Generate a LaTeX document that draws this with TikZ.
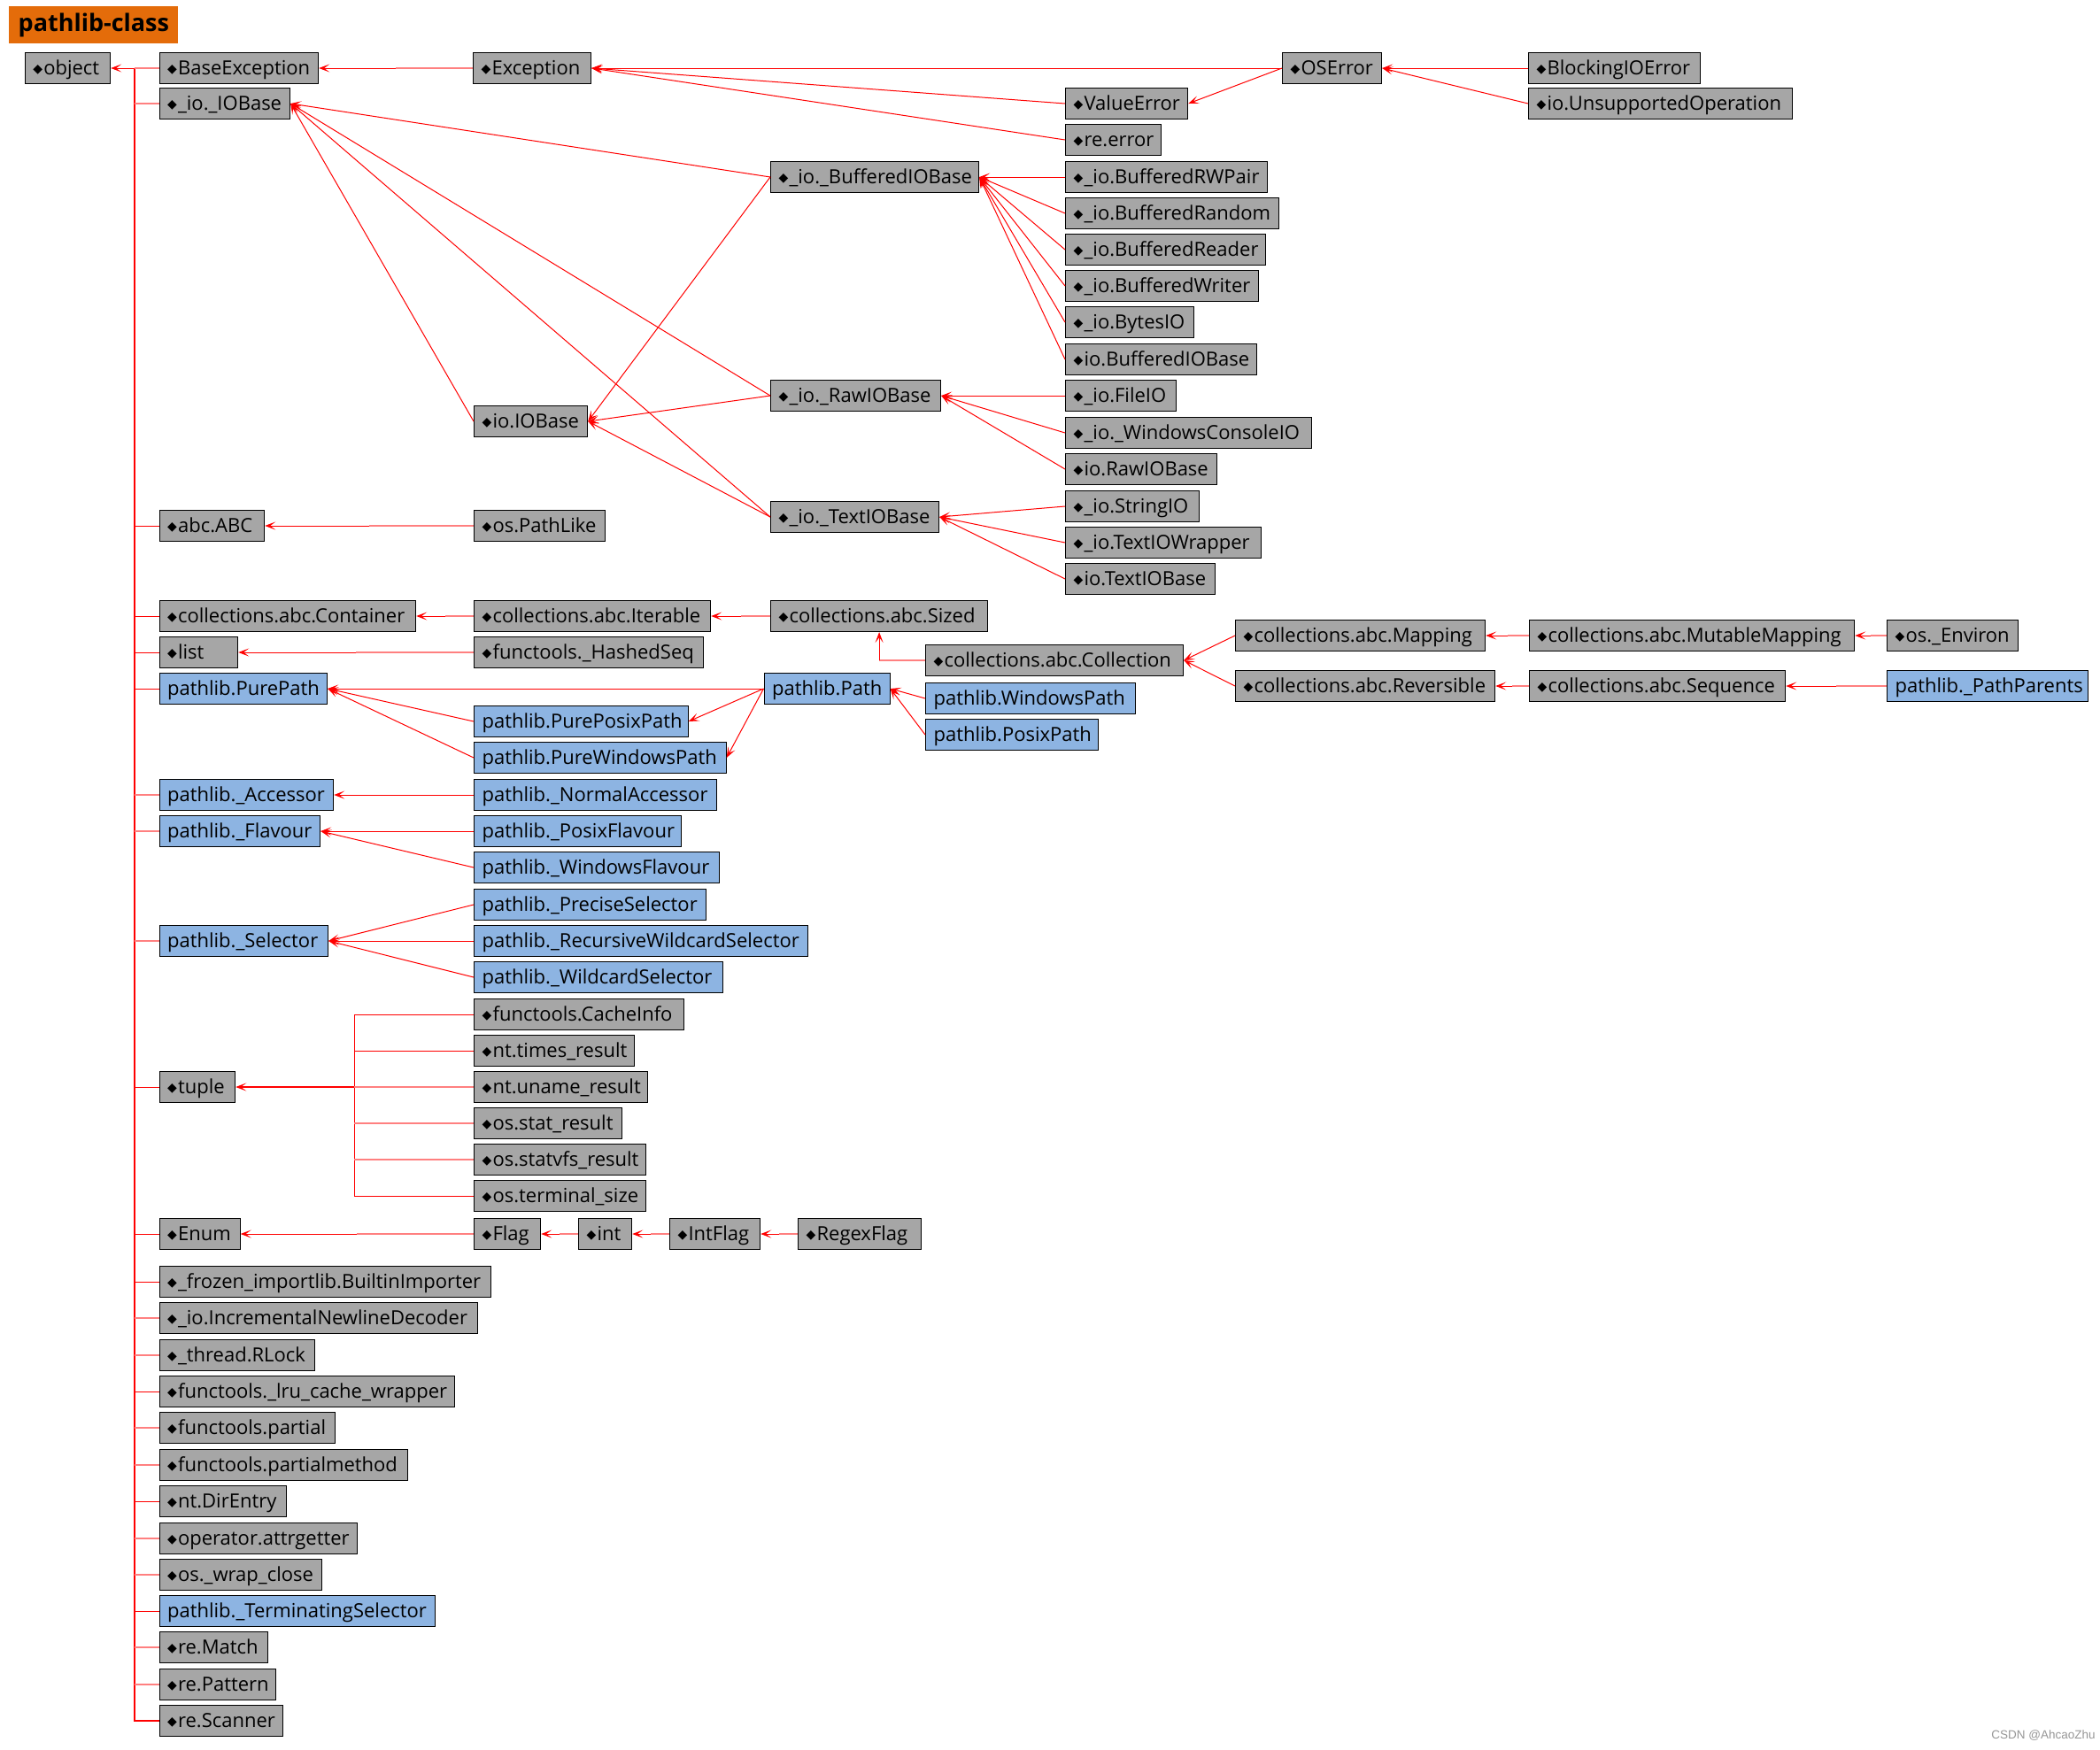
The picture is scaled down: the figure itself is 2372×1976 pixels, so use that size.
\documentclass[tikz,border=0pt]{standalone}
\usepackage{fontspec}
\setmainfont{Open Sans}
\newfontfamily\djv{DejaVu Sans}
\newfontfamily\lib{Liberation Sans}
\usetikzlibrary{arrows.meta,calc}
\definecolor{boxgray}{RGB}{166,166,166}
\definecolor{boxblue}{RGB}{141,180,226}
\definecolor{ttlorange}{RGB}{228,108,10}
\definecolor{lnred}{RGB}{255,0,0}
\definecolor{lnpink}{RGB}{255,128,128}
\definecolor{wmgray}{RGB}{150,150,150}
\newcommand\dm{{\djv\fontsize{7pt}{8pt}\selectfont\raisebox{1.2pt}{◆}}\hspace{0.6pt}}
\tikzset{
  box/.style={draw=black, line width=0.6pt, inner sep=0pt, minimum height=17.5pt, text height=7.6pt, text depth=0pt, font=\fontsize{11pt}{12pt}\selectfont},
  gb/.style={fill=boxgray}, bl/.style={fill=boxblue},
  arr/.style={draw=lnred, line width=0.5pt, -{Stealth[length=6pt,width=4.5pt,inset=3pt]}},
  ln/.style={draw=lnred, line width=0.5pt},
  pk/.style={draw=lnpink, line width=1pt},
  trunk/.style={draw=lnred, line width=1pt},
}
\newcommand\bx[6]{%
  \pgfmathsetlengthmacro\bw{(#3-(#2))*0.5pt}%
  \node[box,#5,minimum width=\bw,anchor=west] (#1) at (#2,#4) {\makebox[\bw][l]{\hspace{4.5pt}#6}};}
\newcommand\hc[2]{%
  \draw[pk] (#1.west) -- ($(#1.west)!0.5!(#2.east |- #1.west)$);
  \draw[arr] ($(#1.west)!0.5!(#2.east |- #1.west)$) -- (#2.east);}
\begin{document}
\begin{tikzpicture}[x=0.5pt,y=-0.5pt]
\useasboundingbox (0,0) rectangle (2372,1976);
\node[fill=ttlorange, inner sep=0pt, minimum width=95.5pt, minimum height=21pt, anchor=north west, font=\bfseries\fontsize{13.5pt}{15pt}\selectfont] (title) at (10,7) {pathlib-class};
\bx{object}{27.7}{124}{77}{gb}{\dm object}
\bx{baseexc}{179.5}{359}{77}{gb}{\dm BaseException}
\bx{exc}{534}{667}{77}{gb}{\dm Exception}
\bx{oserr}{1448}{1560}{77}{gb}{\dm OSError}
\bx{blocking}{1726}{1920}{77}{gb}{\dm BlockingIOError}
\bx{iobase}{179.5}{327}{117}{gb}{\dm\_io.\_IOBase}
\bx{valerr}{1203}{1341}{117}{gb}{\dm ValueError}
\bx{unsup}{1726}{2024}{117}{gb}{\dm io.UnsupportedOperation}
\bx{reerr}{1203}{1311}{158}{gb}{\dm re.error}
\bx{bufbase}{870}{1105}{200}{gb}{\dm\_io.\_BufferedIOBase}
\bx{rwpair}{1203}{1431}{200}{gb}{\dm\_io.BufferedRWPair}
\bx{bufrand}{1203}{1444}{241}{gb}{\dm\_io.BufferedRandom}
\bx{bufread}{1203}{1429}{282}{gb}{\dm\_io.BufferedReader}
\bx{bufwrite}{1203}{1421}{323}{gb}{\dm\_io.BufferedWriter}
\bx{bytesio}{1203}{1348}{364}{gb}{\dm\_io.BytesIO}
\bx{iobufbase}{1203}{1419}{406}{gb}{\dm io.BufferedIOBase}
\bx{rawbase}{870}{1062}{447}{gb}{\dm\_io.\_RawIOBase}
\bx{fileio}{1203}{1328}{447}{gb}{\dm\_io.FileIO}
\bx{ioiobase}{535}{663}{476}{gb}{\dm io.IOBase}
\bx{wincon}{1203}{1481}{489}{gb}{\dm\_io.\_WindowsConsoleIO}
\bx{iorawbase}{1203}{1374}{530}{gb}{\dm io.RawIOBase}
\bx{stringio}{1203}{1354}{572}{gb}{\dm\_io.StringIO}
\bx{textbase}{870}{1060}{584}{gb}{\dm\_io.\_TextIOBase}
\bx{abcabc}{179.5}{298}{594}{gb}{\dm abc.ABC}
\bx{pathlike}{535}{683}{594}{gb}{\dm os.PathLike}
\bx{textwrap}{1203}{1424}{613}{gb}{\dm\_io.TextIOWrapper}
\bx{iotextbase}{1203}{1372}{654}{gb}{\dm io.TextIOBase}
\bx{container}{179.5}{469}{696}{gb}{\dm collections.abc.Container}
\bx{iterable}{535}{802}{696}{gb}{\dm collections.abc.Iterable}
\bx{sized}{870}{1115}{696}{gb}{\dm collections.abc.Sized}
\bx{mapping}{1395}{1677}{718}{gb}{\dm collections.abc.Mapping}
\bx{mutmap}{1727}{2094}{718}{gb}{\dm collections.abc.MutableMapping}
\bx{environ}{2131}{2279}{718}{gb}{\dm os.\_Environ}
\bx{list}{179.5}{268}{737}{gb}{\dm list}
\bx{hashedseq}{535}{794}{737}{gb}{\dm functools.\_HashedSeq}
\bx{collection}{1045}{1336}{746}{gb}{\dm collections.abc.Collection}
\bx{reversible}{1395}{1688}{775}{gb}{\dm collections.abc.Reversible}
\bx{sequence}{1727}{2016}{775}{gb}{\dm collections.abc.Sequence}
\bx{pathparents}{2131}{2358}{775}{bl}{pathlib.\_PathParents}
\bx{purepath}{179.5}{369}{778}{bl}{pathlib.PurePath}
\bx{path}{862.5}{1004.5}{778}{bl}{pathlib.Path}
\bx{winpath}{1045}{1282}{789}{bl}{pathlib.WindowsPath}
\bx{pureposix}{535}{776.5}{815}{bl}{pathlib.PurePosixPath}
\bx{posixpath}{1045}{1240}{830}{bl}{pathlib.PosixPath}
\bx{purewin}{535}{819.5}{856}{bl}{pathlib.PureWindowsPath}
\bx{accessor}{179.5}{376}{898}{bl}{pathlib.\_Accessor}
\bx{normacc}{535}{809}{898}{bl}{pathlib.\_NormalAccessor}
\bx{flavour}{179.5}{361}{939}{bl}{pathlib.\_Flavour}
\bx{posixflav}{535}{769}{939}{bl}{pathlib.\_PosixFlavour}
\bx{winflav}{535}{812}{980}{bl}{pathlib.\_WindowsFlavour}
\bx{precise}{535}{797}{1022}{bl}{pathlib.\_PreciseSelector}
\bx{selector}{179.5}{370}{1063}{bl}{pathlib.\_Selector}
\bx{recursive}{535}{912}{1063}{bl}{pathlib.\_RecursiveWildcardSelector}
\bx{wildcard}{535}{816}{1104}{bl}{pathlib.\_WildcardSelector}
\bx{cacheinfo}{535}{772}{1146}{gb}{\dm functools.CacheInfo}
\bx{times}{535}{716}{1187}{gb}{\dm nt.times\_result}
\bx{tuple}{179.5}{265}{1228}{gb}{\dm tuple}
\bx{uname}{535}{731}{1228}{gb}{\dm nt.uname\_result}
\bx{stat}{535}{702}{1269}{gb}{\dm os.stat\_result}
\bx{statvfs}{535}{729}{1310}{gb}{\dm os.statvfs\_result}
\bx{termsize}{535}{729}{1351}{gb}{\dm os.terminal\_size}
\bx{enum}{179.5}{270.5}{1394}{gb}{\dm Enum}
\bx{flag}{535}{610}{1394}{gb}{\dm Flag}
\bx{int}{653}{713}{1394}{gb}{\dm int}
\bx{intflag}{756}{858}{1394}{gb}{\dm IntFlag}
\bx{regexflag}{901}{1040}{1394}{gb}{\dm RegexFlag}
\bx{frozen}{179.5}{554}{1448}{gb}{\dm\_frozen\_importlib.BuiltinImporter}
\bx{incdec}{179.5}{539}{1489}{gb}{\dm\_io.IncrementalNewlineDecoder}
\bx{rlock}{179.5}{355}{1531}{gb}{\dm\_thread.RLock}
\bx{lru}{179.5}{513}{1572}{gb}{\dm functools.\_lru\_cache\_wrapper}
\bx{partial}{179.5}{378}{1613}{gb}{\dm functools.partial}
\bx{partialm}{179.5}{460}{1655}{gb}{\dm functools.partialmethod}
\bx{direntry}{179.5}{323}{1696}{gb}{\dm nt.DirEntry}
\bx{attrget}{179.5}{403}{1738}{gb}{\dm operator.attrgetter}
\bx{wrapclose}{179.5}{363}{1779}{gb}{\dm os.\_wrap\_close}
\bx{termsel}{179.5}{491}{1820}{bl}{pathlib.\_TerminatingSelector}
\bx{rematch}{179.5}{302}{1861}{gb}{\dm re.Match}
\bx{repattern}{179.5}{311}{1903}{gb}{\dm re.Pattern}
\bx{rescanner}{179.5}{319}{1944}{gb}{\dm re.Scanner}
\node[anchor=east, text=wmgray, inner sep=0pt, font=\lib\fontsize{6.75pt}{8pt}\selectfont] (wm) at (2367,1961) {CSDN @AhcaoZhu};
% trunk
\coordinate (tr) at (152,77);
\draw[arr] (tr) -- (object.east);
\draw[trunk] (tr) -- (tr |- rescanner.west) -- (rescanner.west);
\foreach \n in {abcabc,container,list,purepath,tuple,enum,frozen,lru,direntry,termsel}
  \draw[ln] (tr |- \n.west) -- (\n.west);
\foreach \n in {baseexc,iobase,accessor,flavour,selector,incdec,rlock,partial,partialm,attrget,wrapclose,rematch,repattern}
  \draw[pk] (tr |- \n.west) -- (\n.west);
% exceptions
\hc{exc}{baseexc}
\draw[arr] (oserr.west) -- (exc.east);
\draw[arr] (valerr.west) -- (exc.east);
\draw[arr] (reerr.west) -- (exc.east);
\draw[arr] (oserr.west) -- (valerr.east);
\draw[arr] (blocking.west) -- (oserr.east);
\draw[arr] (unsup.west) -- (oserr.east);
% io
\foreach \n in {bufbase,rawbase,textbase,ioiobase} \draw[arr] (\n.west) -- (iobase.east);
\foreach \n in {bufbase,rawbase,textbase} \draw[arr] (\n.west) -- (ioiobase.east);
\foreach \n in {rwpair,bufrand,bufread,bufwrite,bytesio,iobufbase} \draw[arr] (\n.west) -- (bufbase.east);
\foreach \n in {fileio,wincon,iorawbase} \draw[arr] (\n.west) -- (rawbase.east);
\foreach \n in {stringio,textwrap,iotextbase} \draw[arr] (\n.west) -- (textbase.east);
% abc / collections
\hc{pathlike}{abcabc}
\hc{iterable}{container}
\hc{sized}{iterable}
\hc{hashedseq}{list}
\draw[pk] (collection.west) -- (collection.west -| sized.south);
\draw[arr] (collection.west -| sized.south) -- (sized.south);
\draw[arr] (mapping.west) -- (collection.east);
\draw[arr] (reversible.west) -- (collection.east);
\hc{mutmap}{mapping}
\hc{environ}{mutmap}
\hc{sequence}{reversible}
\hc{pathparents}{sequence}
% pathlib
\draw[arr] (path.west) -- (purepath.east);
\draw[arr] (pureposix.west) -- (purepath.east);
\draw[arr] (purewin.west) -- (purepath.east);
\draw[arr] (path.west) -- (pureposix.east);
\draw[arr] (path.west) -- (purewin.east);
\draw[arr] (winpath.west) -- (path.east);
\draw[arr] (posixpath.west) -- (path.east);
\draw[arr] (normacc.west) -- (accessor.east);
\draw[arr] (posixflav.west) -- (flavour.east);
\draw[arr] (winflav.west) -- (flavour.east);
\foreach \n in {precise,recursive,wildcard} \draw[arr] (\n.west) -- (selector.east);
% tuple
\coordinate (tb) at (400,1228);
\draw[ln] (tb |- cacheinfo.west) -- (tb |- termsize.west);
\foreach \n in {cacheinfo,times,termsize} \draw[ln] (\n.west) -- (tb |- \n.west);
\foreach \n in {uname,stat,statvfs} \draw[pk] (\n.west) -- (tb |- \n.west);
\draw[arr, line width=1pt] (tb) -- (tuple.east);
% enum
\hc{flag}{enum}
\hc{int}{flag}
\hc{intflag}{int}
\hc{regexflag}{intflag}
\end{tikzpicture}
\end{document}
